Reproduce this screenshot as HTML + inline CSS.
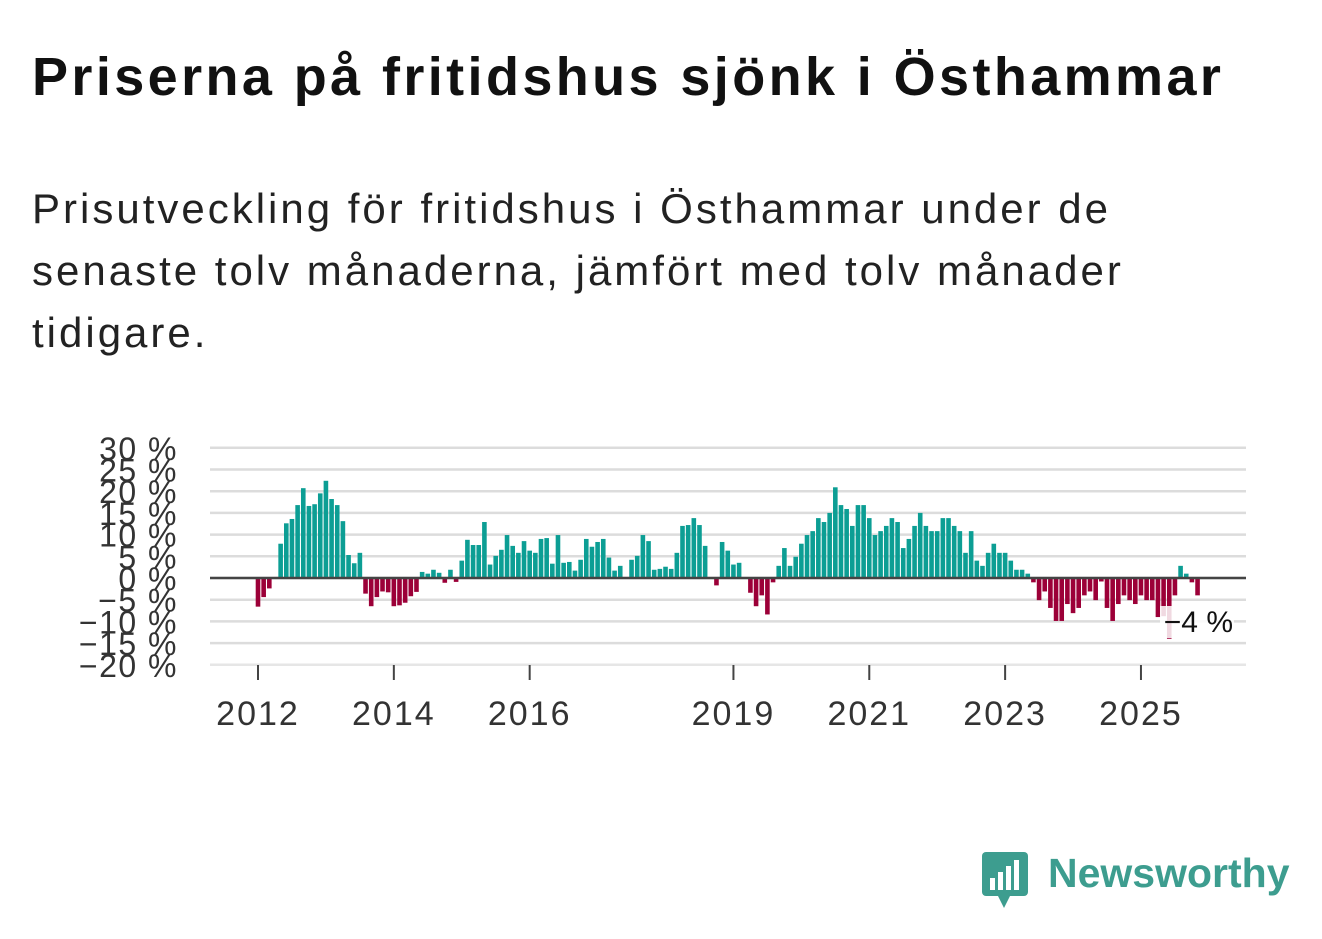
<!DOCTYPE html>
<html><head><meta charset="utf-8"><style>
body{margin:0;width:1322px;height:939px;background:#fff;font-family:"Liberation Sans","DejaVu Sans",sans-serif;color:#111;overflow:hidden;position:relative}
h1{position:absolute;left:32px;top:46px;margin:0;font-size:54px;font-weight:bold;letter-spacing:3.4px}
p.sub{position:absolute;left:32px;top:178px;margin:0;font-size:42px;line-height:62px;width:1250px;color:#222;letter-spacing:3px}
</style></head><body>
<h1>Priserna på fritidshus sjönk i Östhammar</h1>
<p class="sub">Prisutveckling för fritidshus i Östhammar under de<br>senaste tolv månaderna, jämfört med tolv månader<br>tidigare.</p>
<svg id="chart" width="1322" height="939" style="position:absolute;left:0;top:0"></svg>
<div style="position:absolute;left:980px;top:848px;height:60px;width:320px">
<svg width="52" height="62" style="position:absolute;left:0;top:2px"><rect x="2" y="2" width="46" height="44" rx="4" fill="#3d9d8f"/><polygon points="18,46 30,46 24,58" fill="#3d9d8f"/><rect x="10" y="28" width="5" height="12" fill="#fff"/><rect x="18" y="22" width="5" height="18" fill="#fff"/><rect x="26" y="16" width="5" height="24" fill="#fff"/><rect x="34" y="10" width="5" height="30" fill="#fff"/></svg>
<span style="position:absolute;left:68px;top:2px;font-size:41px;color:#3d9d8f;font-weight:bold">Newsworthy</span></div>
<script>
const values=[-6.6,-4.4,-2.4,0,7.9,12.6,13.6,16.8,20.7,16.6,17.0,19.5,22.4,18.2,16.8,13.1,5.3,3.4,5.8,-3.6,-6.5,-4.4,-3.1,-3.3,-6.5,-6.3,-5.7,-4.2,-3.2,1.4,1.0,1.9,1.2,-1.1,1.9,-0.9,4.0,8.8,7.6,7.6,12.9,3.1,5.1,6.5,9.9,7.4,5.8,8.5,6.3,5.8,9.0,9.2,3.3,9.9,
3.5,3.7,1.7,4.2,9.0,7.2,8.3,9.0,4.7,1.7,2.8,0,4.2,5.1,9.9,8.5,1.9,2.1,2.6,2.1,5.8,12.0,12.2,13.8,12.2,7.4,0,-1.7,8.3,6.3,3.1,3.5,0,-3.4,-6.5,-4.0,-8.4,-1.0,2.8,6.9,2.8,4.9,7.9,9.9,10.8,13.8,12.9,15.0,20.9,16.8,15.9,12.0,16.8,16.8,13.8,
9.9,10.8,12.0,13.8,12.9,6.9,9.0,12.0,15.0,12.0,10.8,10.8,13.8,13.8,12.0,10.8,5.8,10.8,4.0,2.8,5.8,7.9,5.8,5.8,4.0,1.9,1.9,1.0,-1.0,-5.1,-3.1,-6.9,-9.9,-9.9,-6.0,-8.1,-6.9,-4.0,-3.1,-5.1,-0.8,-6.9,-9.9,-6.0,-4.0,-5.1,-6.0,-4.0,-5.1,-5.1,-9.0,-8.8,-14.0,-4.0,2.8,1.0,-1.0,-4.0];
const startYear=2012;
const yTicks=[30,25,20,15,10,5,0,-5,-10,-15,-20];
const xTickYears=[2012,2014,2016,2019,2021,2023,2025];
const lastLabel="−4 %";
const NS="http://www.w3.org/2000/svg",svg=document.getElementById('chart');
const y=v=>578-v*4.34, x=i=>258+i*5.66;
function mk(t,a,p){const e=document.createElementNS(NS,t);for(const k in a)e.setAttribute(k,a[k]);(p||svg).appendChild(e);return e;}
yTicks.forEach(t=>{
 const l=mk('line',{x1:210,x2:1246,y1:y(t),y2:y(t),stroke:t===-20?'#e6e6e6':'#dcdcdc','stroke-width':2.5});
 
 
 const tx=mk('text',{x:178,y:y(t)+12,'text-anchor':'end','font-size':32,fill:'#333','letter-spacing':1.5});
 tx.textContent=(t<0?'−'+(-t):t)+' %';
 
 
});
values.forEach((v,i)=>{
 const r=mk('rect',{x:x(i)-2.3,width:4.6,y:Math.min(y(v),578),height:Math.abs(y(v)-578),fill:v>=0?'#0c9e94':'#9c0038'});
 
 
});
const z=mk('line',{x1:210,x2:1246,y1:578,y2:578,stroke:'#444','stroke-width':2.5});


xTickYears.forEach(yr=>{
 const i=(yr-startYear)*12;
 const tk=mk('line',{x1:x(i),x2:x(i),y1:665,y2:680,stroke:'#444','stroke-width':2});
 
 
 const t=mk('text',{x:x(i),y:725,'text-anchor':'middle','font-size':34,fill:'#333','letter-spacing':2});
 t.textContent=yr;
 
 
});
const lb=mk('rect',{x:1160,y:606,width:74,height:32,fill:'#fff',opacity:0.85});


const lt=mk('text',{x:1233,y:632,'text-anchor':'end','font-size':30,fill:'#111'});
lt.textContent=lastLabel;


</script>
</body></html>
